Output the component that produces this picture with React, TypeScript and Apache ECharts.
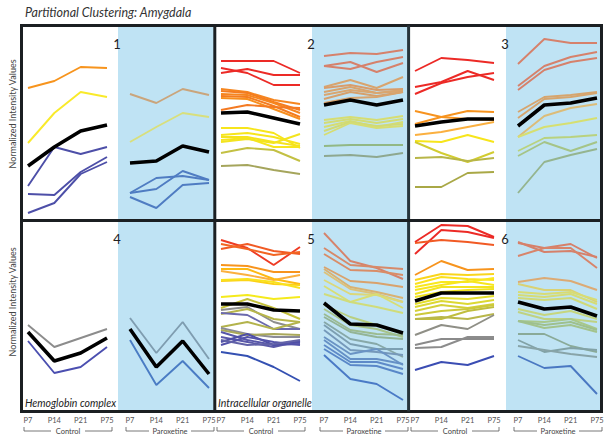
import React, { useEffect, useRef } from 'react';
import * as echarts from 'echarts';

// ---------------- text ----------------
const TITLE = 'Partitional Clustering: Amygdala';
const Y_LABEL = 'Normalized Intensity Values';
const TIMEPOINTS = ['P7', 'P14', 'P21', 'P75'];
const GROUPS = ['Control', 'Paroxetine'];
const PANEL_NUMBERS = ['1', '2', '3', '4', '5', '6'];
const PANEL_NOTES = ['', '', '', 'Hemoglobin complex', 'Intracellular organelle', ''];

// ---------------- data (normalized units, per panel) ----------------
// Panel 1
const p1CtrlLines = [[131, 138, 152, 151], [76, 106, 127, 122], [33, 72, 65, 72], [25, 24, 47, 62], [6, 16, 45, 57]];
const p1CtrlMean = [53, 72, 88, 94];
const p1ParoLines = [[125, 116, 130, 124], [77, 92, 106, 102], [26, 41, 43, 39], [22, 11, 34, 36], [26, 30, 48, 39]];
const p1ParoMean = [56, 58, 73, 67];
// Panel 2
const p2CtrlLines = [
  [158, 158, 158, 146], [151, 146, 134, 134], [146, 150, 144, 144],
  [130, 127, 119, 115], [128, 126, 117, 109], [125, 124, 116, 106], [123, 122, 113, 102], [121, 120, 110, 100], [109, 114, 112, 111],
  [91, 91, 86, 71], [84, 86, 82, 75], [82, 82, 77, 73], [79, 81, 72, 72], [77, 80, 76, 85],
  [66, 71, 69, 58], [53, 54, 49, 45],
];
const p2CtrlMean = [106, 107, 101, 95];
const p2ParoLines = [
  [163, 166, 165, 169], [153, 157, 147, 156], [153, 150, 157, 162],
  [132, 139, 131, 142], [131, 134, 129, 130], [127, 132, 126, 129], [124, 129, 126, 128], [120, 127, 123, 127], [116, 121, 122, 127],
  [99, 102, 99, 103], [96, 100, 96, 100], [92, 98, 92, 97], [88, 97, 93, 95], [84, 96, 91, 93],
  [73, 74, 74, 74], [63, 64, 62, 66],
];
const p2ParoMean = [114, 119, 114, 119];
// Panel 3
const p3CtrlLines = [
  [148, 161, 159, 156], [132, 137, 148, 139], [125, 136, 142, 146],
  [108, 102, 100, 99], [95, 102, 108, 107],
  [84, 87, 92, 97], [78, 77, 84, 77], [77, 66, 57, 67], [61, 62, 58, 61], [32, 32, 46, 47],
];
const p3CtrlMean = [93, 97, 100, 100];
const p3ParoLines = [
  [155, 180, 176, 176], [133, 153, 162, 167], [129, 149, 157, 161],
  [107, 122, 124, 127], [101, 120, 122, 126], [82, 103, 111, 115],
  [82, 92, 96, 101], [68, 81, 82, 84], [63, 77, 68, 77], [26, 57, 64, 70],
];
const p3ParoMean = [93, 114, 116, 121];
// Panel 4
const p4CtrlLines = [[85, 63, 72, 81], [69, 37, 43, 63]];
const p4CtrlMean = [78, 49, 57, 72];
const p4ParoLines = [[92, 57, 88, 51], [70, 25, 49, 22]];
const p4ParoMean = [81, 43, 69, 36];
// Panel 5
const p5CtrlLines = [
  [170, 162, 145, 163], [161, 166, 159, 156], [166, 161, 155, 158],
  [145, 144, 138, 138], [139, 135, 130, 135], [141, 141, 131, 126],
  [129, 130, 126, 125], [130, 131, 128, 122], [113, 115, 111, 113],
  [102, 111, 102, 91], [100, 103, 88, 81], [96, 101, 91, 88], [97, 95, 81, 81], [83, 88, 81, 88], [82, 76, 73, 73], [80, 75, 76, 75],
  [78, 70, 65, 66], [73, 68, 63, 69], [68, 76, 65, 68], [65, 73, 68, 65], [70, 65, 66, 70],
  [58, 54, 43, 29],
];
const p5CtrlMean = [106, 106, 100, 99];
const p5ParoLines = [
  [177, 149, 142, 131], [162, 145, 143, 141], [156, 140, 139, 135],
  [143, 129, 127, 123], [141, 123, 118, 112], [138, 121, 116, 108],
  [130, 116, 115, 108], [124, 108, 116, 102], [116, 108, 103, 97],
  [105, 93, 85, 76], [101, 85, 81, 73], [96, 80, 76, 75], [93, 78, 73, 71],
  [88, 71, 66, 53], [85, 66, 61, 61], [80, 60, 58, 55],
  [73, 56, 61, 45], [70, 51, 51, 46], [65, 48, 48, 41], [61, 45, 44, 36],
  [55, 31, 26, 10],
];
const p5ParoMean = [107, 86, 85, 77];
// Panel 6
const p6CtrlLines = [
  [168, 185, 184, 173], [156, 180, 178, 172], [167, 170, 168, 165],
  [135, 149, 140, 141],
  [130, 136, 135, 136], [126, 133, 131, 130], [123, 128, 128, 132], [120, 125, 129, 125], [116, 123, 123, 123], [113, 118, 120, 121],
  [106, 112, 111, 114], [103, 109, 106, 110], [99, 105, 102, 106], [95, 99, 101, 105],
  [91, 91, 99, 103], [91, 93, 91, 96],
  [75, 85, 81, 95], [65, 71, 71, 71], [62, 63, 73, 73],
  [40, 48, 45, 54],
];
const p6CtrlMean = [109, 117, 117, 117];
const p6ParoLines = [
  [168, 158, 159, 153], [167, 162, 166, 152], [154, 162, 162, 142],
  [128, 132, 129, 120],
  [126, 120, 120, 108], [118, 116, 118, 110], [115, 113, 116, 106], [112, 110, 112, 101],
  [101, 95, 99, 91], [98, 91, 91, 88],
  [89, 88, 91, 81], [89, 82, 85, 78], [89, 85, 88, 80],
  [76, 76, 64, 58], [70, 58, 62, 60], [64, 60, 56, 53],
  [54, 42, 44, 16],
];
const p6ParoMean = [108, 101, 103, 94];

// ---------------- styles ----------------
const RED = '#ec2a26';
const ORANGE = '#f6861f';
const YELLOW = '#f7e51b';
const PURPLE = '#4d4fa8';
const SALMON = '#d6816b';
const TAN = '#d8a46e';
const YG = '#d6dd72';

const p1CtrlColors = ['#f7941d', '#f9ea2a', PURPLE, PURPLE, PURPLE];
const p1ParoColors = ['#caa57c', '#d8df7c', '#4f7cc2', '#4f7cc2', '#4f7cc2'];
const p2CtrlColors = [RED, RED, RED, ORANGE, '#f47c20', ORANGE, '#f47c20', '#f78f1e', '#f47a22', YELLOW, YELLOW, '#f5e31c', YELLOW, '#f3e41e', '#c3c043', '#a5a55c'];
const p2ParoColors = [SALMON, SALMON, SALMON, TAN, '#d99c6a', TAN, '#d9a670', '#d6a06c', TAN, YG, '#d3dc74', YG, '#d0da76', YG, '#92b884', '#8ea88f'];
const p3CtrlColors = [RED, RED, RED, '#f7931e', '#f7931e', '#fbb040', YELLOW, '#d2cc30', '#b8b648', '#a9a846'];
const p3ParoColors = [SALMON, SALMON, SALMON, '#d6a56e', '#d6a56e', '#dcbc78', '#d6df70', '#b9d27e', '#a5c487', '#95b58f'];
const p4CtrlColors = ['#8c8c8c', '#4b4fb0'];
const p4ParoColors = ['#7f9db0', '#4a7cc4'];
const p5CtrlColors = ['#ee3b24', '#f15a24', '#f26522', '#f7941d', '#fbb040', '#fdb913', '#fcd116', '#f9e21e', '#f5ea1c', '#c4c03a', '#8d8d8d', '#b8b64a', '#6b69ad', '#b3b34c', '#8b8b98', '#a9a85a', '#5756a9', '#5a58a8', '#4f4fa6', '#5352aa', '#6262a8', '#3450b2'];
const p5ParoColors = ['#d6836b', '#d78a6a', '#d98d68', '#d9a26c', '#d9b272', '#dcc27a', '#dcd878', '#d8de74', '#d0dc7a', '#b9cf80', '#a8c48a', '#9cbb90', '#93b496', '#87a8a8', '#7c9fb2', '#7699ba', '#6a93c4', '#6590c6', '#5e8ac8', '#5987c8', '#4a7ac6'];
const p6CtrlColors = [RED, RED, '#f15a24', '#f7941d', '#f9d51c', '#fbe11c', '#f9e81e', '#f7e61c', '#f3e41e', '#efe220', '#e4de2c', '#dcd832', '#d4d038', '#ccc93a', '#c0be3e', '#b9b74a', '#8f8f86', '#8a8a8a', '#8c8c8c', '#3b4db3'];
const p6ParoColors = ['#d6806a', '#d6806a', '#d8846a', '#dcaa74', '#d9d274', '#d8dc74', '#d5dc76', '#d0da78', '#c6d67e', '#bfd282', '#a9c88a', '#a3c38c', '#9ec08e', '#8aaa98', '#82a2a6', '#88a4a8', '#4a78c2'];

const PANELS = [
  [{ lines: p1CtrlLines, colors: p1CtrlColors, mean: p1CtrlMean }, { lines: p1ParoLines, colors: p1ParoColors, mean: p1ParoMean }],
  [{ lines: p2CtrlLines, colors: p2CtrlColors, mean: p2CtrlMean }, { lines: p2ParoLines, colors: p2ParoColors, mean: p2ParoMean }],
  [{ lines: p3CtrlLines, colors: p3CtrlColors, mean: p3CtrlMean }, { lines: p3ParoLines, colors: p3ParoColors, mean: p3ParoMean }],
  [{ lines: p4CtrlLines, colors: p4CtrlColors, mean: p4CtrlMean }, { lines: p4ParoLines, colors: p4ParoColors, mean: p4ParoMean }],
  [{ lines: p5CtrlLines, colors: p5CtrlColors, mean: p5CtrlMean }, { lines: p5ParoLines, colors: p5ParoColors, mean: p5ParoMean }],
  [{ lines: p6CtrlLines, colors: p6CtrlColors, mean: p6CtrlMean }, { lines: p6ParoLines, colors: p6ParoColors, mean: p6ParoMean }],
];

// ---------------- layout ----------------
const FONT = 'Lato, "Open Sans", sans-serif';
const COL_LEFT = [23, 216, 410];
const COL_SPLIT = [118, 312, 506];
const COL_RIGHT = [214, 408, 601];
const ROW_TOP = [27, 222];
const ROW_H = [192, 188];
const HALF_W = 79;
const BLUE_BG = '#bfe3f4';
const BORDER = '#1b1f22';

function buildOption() {
  const grid: any[] = [];
  const xAxis: any[] = [];
  const yAxis: any[] = [];
  const series: any[] = [];
  const graphic: any[] = [];

  PANELS.forEach((panel, p) => {
    const r = Math.floor(p / 3);
    const c = p % 3;
    graphic.push({
      type: 'rect', z: 0, silent: true,
      shape: { x: COL_SPLIT[c], y: ROW_TOP[r], width: COL_RIGHT[c] - COL_SPLIT[c], height: ROW_H[r] },
      style: { fill: BLUE_BG },
    });
    panel.forEach((half, g) => {
      const idx = p * 2 + g;
      const left = g === 0 ? COL_LEFT[c] + 5 : COL_SPLIT[c] + 12;
      grid.push({ left, top: ROW_TOP[r], width: HALF_W, height: ROW_H[r], outerBoundsMode: 'none', containLabel: false });
      xAxis.push({
        type: 'category', gridIndex: idx, data: TIMEPOINTS, boundaryGap: false,
        axisLine: { show: false }, axisTick: { show: false }, splitLine: { show: false },
        axisLabel: { show: r === 1, interval: 0, fontSize: 7.5, color: '#555', margin: 6, fontFamily: FONT },
      });
      yAxis.push({ type: 'value', gridIndex: idx, min: 0, max: ROW_H[r], show: false, splitLine: { show: false } });
      half.lines.forEach((d, i) => {
        series.push({
          type: 'line', xAxisIndex: idx, yAxisIndex: idx, data: d, symbol: 'none', silent: true, z: 3,
          lineStyle: { color: half.colors[i], width: 1.9 },
        });
      });
      series.push({
        type: 'line', xAxisIndex: idx, yAxisIndex: idx, data: half.mean, symbol: 'none', silent: true, z: 5,
        lineStyle: { color: '#000', width: 3.6 },
      });
      if (r === 1) {
        const x1 = left - 4;
        const x2 = left + HALF_W + 5;
        const mid = (x1 + x2) / 2;
        const gap = g === 0 ? 17 : 21;
        const by = 431;
        graphic.push({ type: 'polyline', silent: true, shape: { points: [[x1, by - 4], [x1, by], [mid - gap, by]] }, style: { stroke: '#555', lineWidth: 0.8, fill: null } });
        graphic.push({ type: 'polyline', silent: true, shape: { points: [[mid + gap, by], [x2, by], [x2, by - 4]] }, style: { stroke: '#555', lineWidth: 0.8, fill: null } });
        graphic.push({ type: 'text', silent: true, x: mid, y: by, style: { text: GROUPS[g], fontSize: 7.5, fontFamily: FONT, fill: '#444', align: 'center', verticalAlign: 'middle' } });
      }
    });
    graphic.push({
      type: 'text', silent: true, z: 10, x: COL_SPLIT[c] - 1, y: ROW_TOP[r] + 17,
      style: { text: PANEL_NUMBERS[p], fontSize: 13, fontFamily: FONT, fill: '#222', align: 'center', verticalAlign: 'middle' },
    });
    if (PANEL_NOTES[p]) {
      graphic.push({
        type: 'text', silent: true, z: 10, x: COL_LEFT[c] + 2, y: ROW_TOP[r] + ROW_H[r] - 7,
        style: { text: PANEL_NOTES[p], fontSize: 10.5, fontStyle: 'italic', fontFamily: FONT, fill: '#222', align: 'left', verticalAlign: 'middle' },
      });
    }
  });

  [0, 1].forEach((r) => {
    graphic.push({
      type: 'text', silent: true, x: 12, y: ROW_TOP[r] + (r === 0 ? 87 : 80), rotation: Math.PI / 2,
      style: { text: Y_LABEL, fontSize: 9, fontFamily: FONT, fill: '#444', align: 'center', verticalAlign: 'middle' },
    });
  });

  graphic.push({ type: 'rect', z: 20, silent: true, shape: { x: 21.5, y: 25.5, width: 580, height: 386 }, style: { fill: 'none', stroke: BORDER, lineWidth: 3 } });
  graphic.push({ type: 'line', z: 20, silent: true, shape: { x1: 214.8, y1: 25.5, x2: 214.8, y2: 411.5 }, style: { stroke: BORDER, lineWidth: 3 } });
  graphic.push({ type: 'line', z: 20, silent: true, shape: { x1: 408.6, y1: 25.5, x2: 408.6, y2: 411.5 }, style: { stroke: '#26343b', lineWidth: 3 } });
  graphic.push({ type: 'line', z: 20, silent: true, shape: { x1: 21.5, y1: 220.5, x2: 601.5, y2: 220.5 }, style: { stroke: BORDER, lineWidth: 3 } });

  return {
    animation: false,
    backgroundColor: '#fff',
    title: {
      text: TITLE, left: 20, top: 1,
      textStyle: { fontSize: 12.5, fontStyle: 'italic', fontWeight: 'normal', color: '#333', fontFamily: FONT },
    },
    grid, xAxis, yAxis, series, graphic,
  };
}

export default function App() {
  const ref = useRef<HTMLDivElement>(null);
  useEffect(() => {
    document.body.style.margin = '0';
    const chart = echarts.init(ref.current as HTMLDivElement, null, { renderer: 'svg' });
    chart.setOption(buildOption() as any);
    return () => chart.dispose();
  }, []);
  return <div ref={ref} style={{ width: 613, height: 442 }} />;
}
